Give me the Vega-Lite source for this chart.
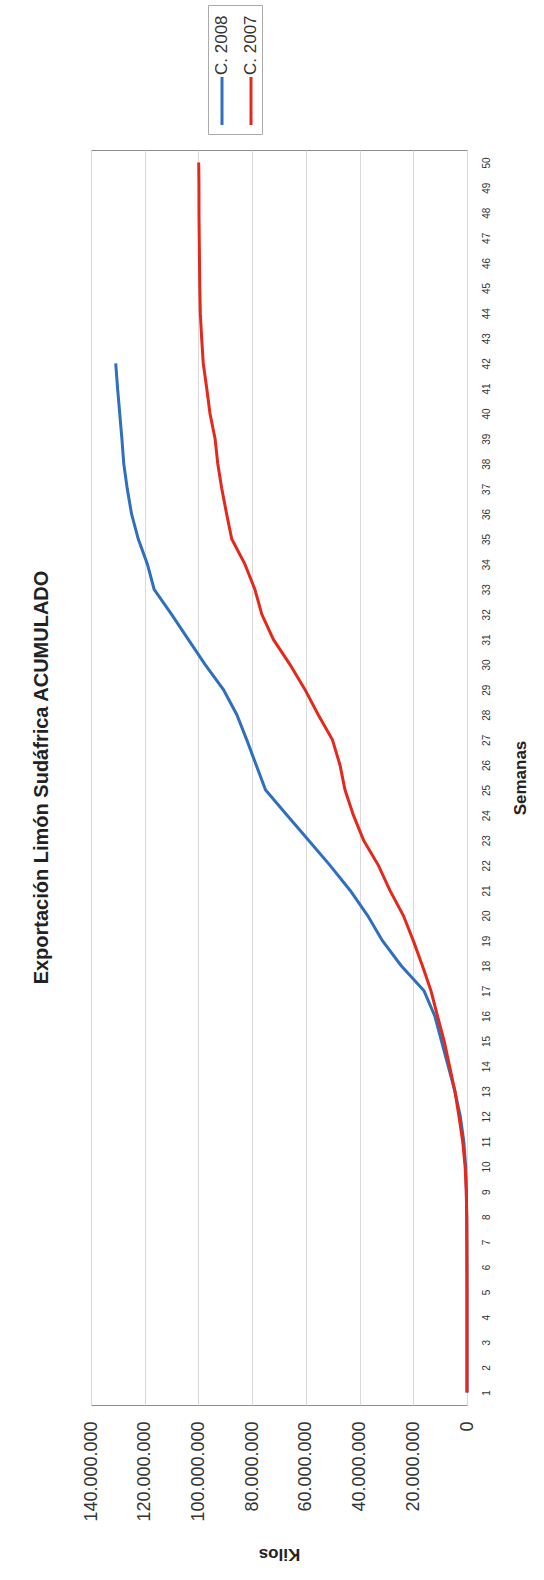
{
  "$schema": "https://vega.github.io/schema/vega-lite/v6.json",
  "width": 376,
  "height": 1255,
  "autosize": {"type": "none"},
  "padding": {"left": 91, "top": 150, "right": 77, "bottom": 175},
  "background": "white",
  "config": {
    "locale": {"number": {"decimal": ",", "thousands": ".", "grouping": [3], "currency": ["", ""]}},
    "font": "Liberation Sans",
    "view": {"stroke": "#8c8c8c", "strokeWidth": 1}
  },
  "title": {
    "text": "Exportación Limón Sudáfrica ACUMULADO",
    "orient": "left",
    "anchor": "middle",
    "fontSize": 20,
    "fontWeight": "bold",
    "offset": 30,
    "color": "#222222"
  },
  "data": {
    "values": [
      {"semana": 1, "serie": "C. 2008", "kilos": 0},
      {"semana": 2, "serie": "C. 2008", "kilos": 0},
      {"semana": 3, "serie": "C. 2008", "kilos": 0},
      {"semana": 4, "serie": "C. 2008", "kilos": 0},
      {"semana": 5, "serie": "C. 2008", "kilos": 0},
      {"semana": 6, "serie": "C. 2008", "kilos": 20000},
      {"semana": 7, "serie": "C. 2008", "kilos": 50000},
      {"semana": 8, "serie": "C. 2008", "kilos": 100000},
      {"semana": 9, "serie": "C. 2008", "kilos": 250000},
      {"semana": 10, "serie": "C. 2008", "kilos": 500000},
      {"semana": 11, "serie": "C. 2008", "kilos": 1200000},
      {"semana": 12, "serie": "C. 2008", "kilos": 2500000},
      {"semana": 13, "serie": "C. 2008", "kilos": 4500000},
      {"semana": 14, "serie": "C. 2008", "kilos": 7000000},
      {"semana": 15, "serie": "C. 2008", "kilos": 9500000},
      {"semana": 16, "serie": "C. 2008", "kilos": 12000000},
      {"semana": 17, "serie": "C. 2008", "kilos": 16000000},
      {"semana": 18, "serie": "C. 2008", "kilos": 24500000},
      {"semana": 19, "serie": "C. 2008", "kilos": 31500000},
      {"semana": 20, "serie": "C. 2008", "kilos": 37000000},
      {"semana": 21, "serie": "C. 2008", "kilos": 43500000},
      {"semana": 22, "serie": "C. 2008", "kilos": 51000000},
      {"semana": 23, "serie": "C. 2008", "kilos": 59000000},
      {"semana": 24, "serie": "C. 2008", "kilos": 67000000},
      {"semana": 25, "serie": "C. 2008", "kilos": 75000000},
      {"semana": 26, "serie": "C. 2008", "kilos": 78500000},
      {"semana": 27, "serie": "C. 2008", "kilos": 82000000},
      {"semana": 28, "serie": "C. 2008", "kilos": 85700000},
      {"semana": 29, "serie": "C. 2008", "kilos": 90700000},
      {"semana": 30, "serie": "C. 2008", "kilos": 97500000},
      {"semana": 31, "serie": "C. 2008", "kilos": 103800000},
      {"semana": 32, "serie": "C. 2008", "kilos": 110000000},
      {"semana": 33, "serie": "C. 2008", "kilos": 116500000},
      {"semana": 34, "serie": "C. 2008", "kilos": 119000000},
      {"semana": 35, "serie": "C. 2008", "kilos": 122400000},
      {"semana": 36, "serie": "C. 2008", "kilos": 124900000},
      {"semana": 37, "serie": "C. 2008", "kilos": 126500000},
      {"semana": 38, "serie": "C. 2008", "kilos": 127800000},
      {"semana": 39, "serie": "C. 2008", "kilos": 128500000},
      {"semana": 40, "serie": "C. 2008", "kilos": 129300000},
      {"semana": 41, "serie": "C. 2008", "kilos": 130100000},
      {"semana": 42, "serie": "C. 2008", "kilos": 130800000},
      {"semana": 1, "serie": "C. 2007", "kilos": 0},
      {"semana": 2, "serie": "C. 2007", "kilos": 0},
      {"semana": 3, "serie": "C. 2007", "kilos": 0},
      {"semana": 4, "serie": "C. 2007", "kilos": 0},
      {"semana": 5, "serie": "C. 2007", "kilos": 0},
      {"semana": 6, "serie": "C. 2007", "kilos": 20000},
      {"semana": 7, "serie": "C. 2007", "kilos": 50000},
      {"semana": 8, "serie": "C. 2007", "kilos": 100000},
      {"semana": 9, "serie": "C. 2007", "kilos": 250000},
      {"semana": 10, "serie": "C. 2007", "kilos": 700000},
      {"semana": 11, "serie": "C. 2007", "kilos": 1600000},
      {"semana": 12, "serie": "C. 2007", "kilos": 3000000},
      {"semana": 13, "serie": "C. 2007", "kilos": 4500000},
      {"semana": 14, "serie": "C. 2007", "kilos": 6500000},
      {"semana": 15, "serie": "C. 2007", "kilos": 8500000},
      {"semana": 16, "serie": "C. 2007", "kilos": 11000000},
      {"semana": 17, "serie": "C. 2007", "kilos": 13400000},
      {"semana": 18, "serie": "C. 2007", "kilos": 16600000},
      {"semana": 19, "serie": "C. 2007", "kilos": 20000000},
      {"semana": 20, "serie": "C. 2007", "kilos": 23700000},
      {"semana": 21, "serie": "C. 2007", "kilos": 28700000},
      {"semana": 22, "serie": "C. 2007", "kilos": 33000000},
      {"semana": 23, "serie": "C. 2007", "kilos": 38500000},
      {"semana": 24, "serie": "C. 2007", "kilos": 42300000},
      {"semana": 25, "serie": "C. 2007", "kilos": 45400000},
      {"semana": 26, "serie": "C. 2007", "kilos": 47300000},
      {"semana": 27, "serie": "C. 2007", "kilos": 50100000},
      {"semana": 28, "serie": "C. 2007", "kilos": 55400000},
      {"semana": 29, "serie": "C. 2007", "kilos": 60300000},
      {"semana": 30, "serie": "C. 2007", "kilos": 65900000},
      {"semana": 31, "serie": "C. 2007", "kilos": 72100000},
      {"semana": 32, "serie": "C. 2007", "kilos": 76400000},
      {"semana": 33, "serie": "C. 2007", "kilos": 79000000},
      {"semana": 34, "serie": "C. 2007", "kilos": 82700000},
      {"semana": 35, "serie": "C. 2007", "kilos": 87600000},
      {"semana": 36, "serie": "C. 2007", "kilos": 89500000},
      {"semana": 37, "serie": "C. 2007", "kilos": 91300000},
      {"semana": 38, "serie": "C. 2007", "kilos": 92800000},
      {"semana": 39, "serie": "C. 2007", "kilos": 93800000},
      {"semana": 40, "serie": "C. 2007", "kilos": 95700000},
      {"semana": 41, "serie": "C. 2007", "kilos": 96900000},
      {"semana": 42, "serie": "C. 2007", "kilos": 98200000},
      {"semana": 43, "serie": "C. 2007", "kilos": 98800000},
      {"semana": 44, "serie": "C. 2007", "kilos": 99300000},
      {"semana": 45, "serie": "C. 2007", "kilos": 99500000},
      {"semana": 46, "serie": "C. 2007", "kilos": 99600000},
      {"semana": 47, "serie": "C. 2007", "kilos": 99700000},
      {"semana": 48, "serie": "C. 2007", "kilos": 99800000},
      {"semana": 49, "serie": "C. 2007", "kilos": 99800000},
      {"semana": 50, "serie": "C. 2007", "kilos": 99900000}
    ]
  },
  "mark": {"type": "line", "strokeWidth": 3, "interpolate": "linear"},
  "encoding": {
    "y": {
      "field": "semana",
      "type": "ordinal",
      "sort": "descending",
      "scale": {"padding": 0.5},
      "axis": {
        "orient": "right",
        "title": "Semanas",
        "titleAngle": -90,
        "titleFontSize": 17,
        "titleFontWeight": "bold",
        "titleColor": "#222222",
        "titlePadding": 38,
        "labelAngle": -90,
        "labelFontSize": 10,
        "labelColor": "#333333",
        "labelPadding": 14,
        "ticks": false,
        "domain": false,
        "grid": false
      }
    },
    "x": {
      "field": "kilos",
      "type": "quantitative",
      "scale": {"domain": [0, 140000000], "reverse": true, "nice": false},
      "axis": {
        "values": [0, 20000000, 40000000, 60000000, 80000000, 100000000, 120000000, 140000000],
        "format": ",d",
        "title": "Kilos",
        "titleAngle": 180,
        "titleFontSize": 17,
        "titleFontWeight": "bold",
        "titleColor": "#222222",
        "titlePadding": 40,
        "labelAngle": -90,
        "labelFontSize": 18,
        "labelColor": "#333333",
        "labelPadding": 16,
        "ticks": false,
        "domain": false,
        "grid": true,
        "gridColor": "#d9d9d9"
      }
    },
    "color": {
      "field": "serie",
      "type": "nominal",
      "scale": {"domain": ["C. 2008", "C. 2007"], "range": ["#2f6fbd", "#e4281c"]},
      "legend": {
        "orient": "none",
        "legendX": 117,
        "legendY": -145,
        "direction": "horizontal",
        "title": null,
        "symbolType": "stroke",
        "symbolSize": 2304,
        "symbolStrokeWidth": 3,
        "labelFontSize": 17,
        "labelColor": "#333333",
        "strokeColor": "#aaaaaa",
        "padding": 3,
        "columnPadding": 10,
        "encoding": {
          "labels": {"angle": {"value": -90}, "x": {"value": 11}, "y": {"value": 67}, "baseline": {"value": "middle"}, "align": {"value": "left"}},
          "symbols": {"angle": {"value": 90}, "x": {"value": 11}, "y": {"value": 93}}
        }
      }
    }
  }
}
